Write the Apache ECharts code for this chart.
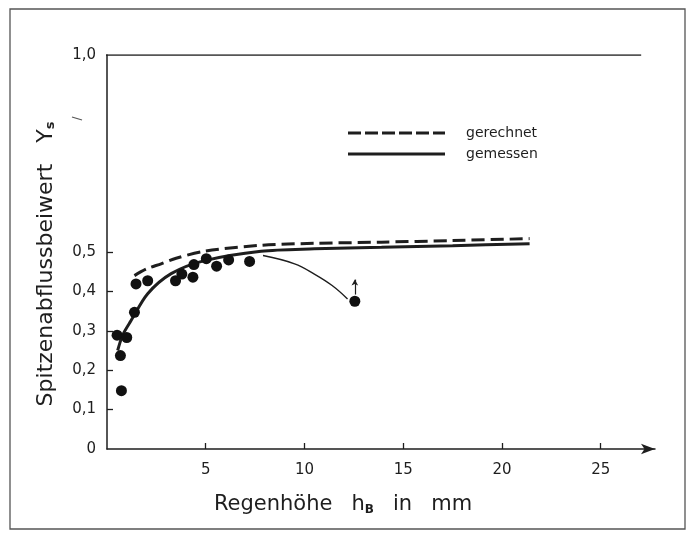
<!DOCTYPE html>
<html>
<head>
<meta charset="utf-8">
<script src="https://cdn.jsdelivr.net/npm/echarts@6/dist/echarts.min.js"></script>
<style>
  html, body { margin: 0; padding: 0; background: #fff; }
  #chart { width: 693px; height: 533px; }
</style>
</head>
<body>
<div id="chart"></div>
<script>
// measured points (Regenhöhe in mm, Spitzenabflussbeiwert)
const measuredX = [0.51, 0.68, 0.73, 1.0, 1.39, 1.47, 2.06, 3.47, 3.79, 4.35, 4.4, 5.03, 5.55, 6.16, 7.22, 12.55];
const measuredY = [0.289, 0.237, 0.148, 0.283, 0.347, 0.419, 0.427, 0.427, 0.444, 0.436, 0.468, 0.483, 0.464, 0.48, 0.476, 0.375];

// gerechnet (dashed curve)
const calcX = [1.39, 2.0, 2.74, 3.5, 4.94, 7.8, 10.5, 13.9, 17.5, 21.4];
const calcY = [0.44, 0.457, 0.47, 0.484, 0.502, 0.517, 0.522, 0.525, 0.529, 0.534];

// gemessen (solid curve)
const measCurveX = [0.54, 0.8, 1.22, 2.06, 3.25, 4.94, 7.8, 10.5, 13.9, 17.5, 21.4];
const measCurveY = [0.25, 0.29, 0.326, 0.394, 0.445, 0.478, 0.502, 0.508, 0.512, 0.516, 0.521];

// thin pointer line to the outlier
const pointerX = [7.9, 9.5, 10.5, 11.4, 12.18];
const pointerY = [0.491, 0.47, 0.444, 0.415, 0.381];

const xTicks = [5, 10, 15, 20, 25];
const yTicks = [0, 0.1, 0.2, 0.3, 0.4, 0.5, 1.0];

const ink = '#1e1e1e';
const font = 'DejaVu Sans';

const zip = (xs, ys) => xs.map((x, i) => [x, ys[i]]);

// legend glyphs: dashed and solid strokes
const dashIcon = 'path://M0,0h13v3h-13zM17,0h13v3h-13zM34,0h13v3h-13zM51,0h13v3h-13zM68,0h13v3h-13zM85,0h12v3h-12z';
const solidIcon = 'path://M0,0h97v3h-97z';

const chart = echarts.init(document.getElementById('chart'));
chart.setOption({
  animation: false,
  backgroundColor: '#fff',
  textStyle: { fontFamily: font, color: ink },
  grid: { left: 107, right: 38, top: 55, bottom: 84 },
  legend: {
    data: [
      { name: 'gerechnet', icon: dashIcon },
      { name: 'gemessen', icon: solidIcon }
    ],
    orient: 'vertical',
    left: 343,
    top: 121,
    itemWidth: 97,
    itemHeight: 3,
    itemGap: 7,
    textStyle: { fontSize: 14, color: ink, fontFamily: font, padding: [0, 0, 0, 16] }
  },
  xAxis: {
    type: 'value',
    min: 0,
    max: 27.75,
    interval: 5,
    splitLine: { show: false },
    axisLine: { lineStyle: { color: ink, width: 1.5 }, symbol: ['none', 'arrow'], symbolSize: [8, 14] },
    axisTick: { customValues: xTicks, length: 6, inside: true, lineStyle: { color: ink, width: 1.3 } },
    axisLabel: { customValues: xTicks, fontSize: 15, color: ink, margin: 14 },
    name: '{t|Regenhöhe}     {t|h}{s|B}     {t|in}     {t|mm}',
    nameLocation: 'middle',
    nameGap: 45,
    nameTextStyle: {
      padding: [0, 76, 0, 0],
      rich: {
        t: { fontSize: 21, color: ink, fontFamily: font },
        s: { fontSize: 12, color: ink, fontFamily: font, fontWeight: 'bold', padding: [10, 0, 0, 0] }
      }
    }
  },
  yAxis: {
    type: 'value',
    min: 0,
    max: 1,
    interval: 0.1,
    splitLine: { show: false },
    axisLine: { lineStyle: { color: ink, width: 1.5 } },
    axisTick: { customValues: yTicks.slice(1, 6), length: 6, inside: true, lineStyle: { color: ink, width: 1.3 } },
    axisLabel: {
      customValues: yTicks,
      fontSize: 15,
      color: ink,
      margin: 11,
      formatter: v => v === 0 ? '0' : v.toFixed(1).replace('.', ',')
    },
    name: '{t|Spitzenabflussbeiwert   Υ}{s|s}',
    nameLocation: 'middle',
    nameGap: 50,
    nameTextStyle: {
      padding: [0, 24, 0, 0],
      rich: {
        t: { fontSize: 22, color: ink, fontFamily: font },
        s: { fontSize: 13, color: ink, fontFamily: font, fontWeight: 'bold', padding: [9, 0, 0, 0] }
      }
    }
  },
  series: [
    {
      name: 'gerechnet',
      type: 'line',
      smooth: 0.3,
      symbol: 'none',
      color: ink,
      lineStyle: { color: ink, width: 3, type: [13, 6] },
      data: zip(calcX, calcY)
    },
    {
      name: 'gemessen',
      type: 'line',
      smooth: 0.3,
      symbol: 'none',
      color: ink,
      lineStyle: { color: ink, width: 3 },
      data: zip(measCurveX, measCurveY)
    },
    {
      name: 'pointer',
      type: 'line',
      smooth: 0.4,
      symbol: 'none',
      lineStyle: { color: ink, width: 1.4 },
      data: zip(pointerX, pointerY),
      markLine: {
        silent: true,
        symbol: ['none', 'arrow'],
        symbolSize: [5, 6],
        label: { show: false },
        lineStyle: { color: ink, width: 1.2, type: 'solid' },
        data: [[{ coord: [12.55, 0.392] }, { coord: [12.55, 0.43] }]]
      }
    },
    {
      name: 'top',
      type: 'line',
      symbol: 'none',
      lineStyle: { color: ink, width: 1.5 },
      data: [[-0.35, 1.0], [27.05, 1.0]]
    },
    {
      name: 'Messwerte',
      type: 'scatter',
      symbol: 'circle',
      symbolSize: 11,
      itemStyle: { color: '#111', opacity: 1 },
      data: zip(measuredX, measuredY),
      z: 5
    }
  ],
  graphic: [
    {
      type: 'rect',
      shape: { x: 10, y: 9, width: 675, height: 520 },
      style: { fill: 'none', stroke: '#555', lineWidth: 1.3 },
      silent: true
    },
    {
      type: 'line',
      shape: { x1: 72, y1: 117, x2: 82, y2: 120 },
      style: { stroke: '#555', lineWidth: 1.2 },
      silent: true
    }
  ]
});
</script>
</body>
</html>
